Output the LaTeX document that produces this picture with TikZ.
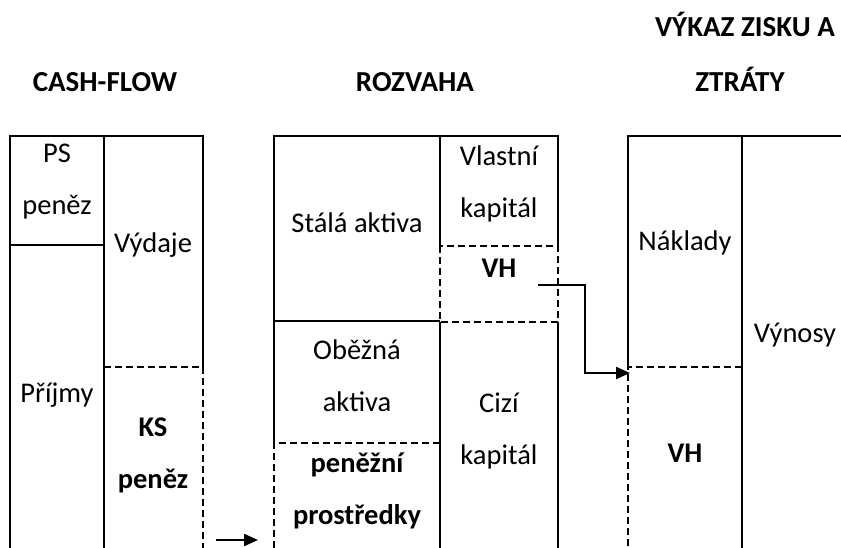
\documentclass[tikz,border=0pt]{standalone}
\usepackage{fontspec}
\setmainfont{Carlito}
\usetikzlibrary{arrows.meta}
\begin{document}
\begin{tikzpicture}[x=1pt,y=-1pt,
  solidline/.style={line width=2.2pt},
  dashline/.style={line width=2.2pt,dash pattern=on 7pt off 4pt},
  lbl/.style={inner sep=0pt,align=center,font=\fontsize{28.5}{52}\selectfont},
  blbl/.style={lbl,font=\fontsize{28.5}{52}\selectfont\bfseries},
  ttl/.style={inner sep=0pt,anchor=base,font=\fontsize{29}{32}\selectfont\bfseries},
  flow/.style={line width=2.2pt,-{Triangle[length=14pt,width=12pt]}}]
\useasboundingbox (0,0) rectangle (841,548);
% titles
\node[ttl] (t1) at (105,92) {CASH-FLOW};
\node[ttl] (t2) at (415,92) {ROZVAHA};
\node[ttl] (t3a) at (745,37) {VÝKAZ ZISKU A};
\node[ttl] (t3b) at (740,92) {ZTRÁTY};
% CASH-FLOW table
\draw[solidline] (10,548) -- (10,136) -- (203,136) -- (203,367);
\draw[solidline] (104,136) -- (104,548);
\draw[solidline] (10,245) -- (104,245);
\draw[dashline] (104,367) -- (203,367) -- (203,548);
% ROZVAHA table
\draw[solidline] (274,443) -- (274,136) -- (558,136) -- (558,246);
\draw[solidline] (440,136) -- (440,246);
\draw[solidline] (274,321) -- (440,321);
\draw[dashline] (440,246) rectangle (558,322);
\draw[solidline] (440,322) -- (440,548);
\draw[solidline] (558,322) -- (558,548);
\draw[dashline] (274,548) -- (274,443) -- (440,443);
% VZZ table
\draw[solidline] (628,367) -- (628,136) -- (841,136);
\draw[solidline] (742,136) -- (742,548);
\draw[dashline] (742,367) -- (628,367) -- (628,548);
% labels
\node[lbl] (ps) at (57,182) {PS\\peněz};
\node[lbl] (vyd) at (153,245) {Výdaje};
\node[lbl] (pri) at (57,395) {Příjmy};
\node[blbl] (ks) at (153,455) {KS\\peněz};
\node[lbl] (sa) at (357,223) {Stálá aktiva};
\node[lbl] (vk) at (499,184) {Vlastní\\kapitál};
\node[blbl] (vh1) at (499,268) {VH};
\node[lbl] (oa) at (357,376) {Oběžná\\aktiva};
\node[lbl] (ck) at (499,431) {Cizí\\kapitál};
\node[blbl] (pp) at (357,491) {peněžní\\prostředky};
\node[lbl] (nak) at (685,243) {Náklady};
\node[lbl] (vyn) at (795,335) {Výnosy};
\node[blbl] (vh2) at (685,453) {VH};
% connectors
\coordinate (vhout) at (538,285);
\coordinate (vzzin) at (630,373);
\draw[flow] (vhout) -- (585,285) |- (vzzin);
\coordinate (ksout) at (216,540);
\coordinate (ppin) at (258,540);
\draw[flow] (ksout) -- (ppin);
\end{tikzpicture}
\end{document}
